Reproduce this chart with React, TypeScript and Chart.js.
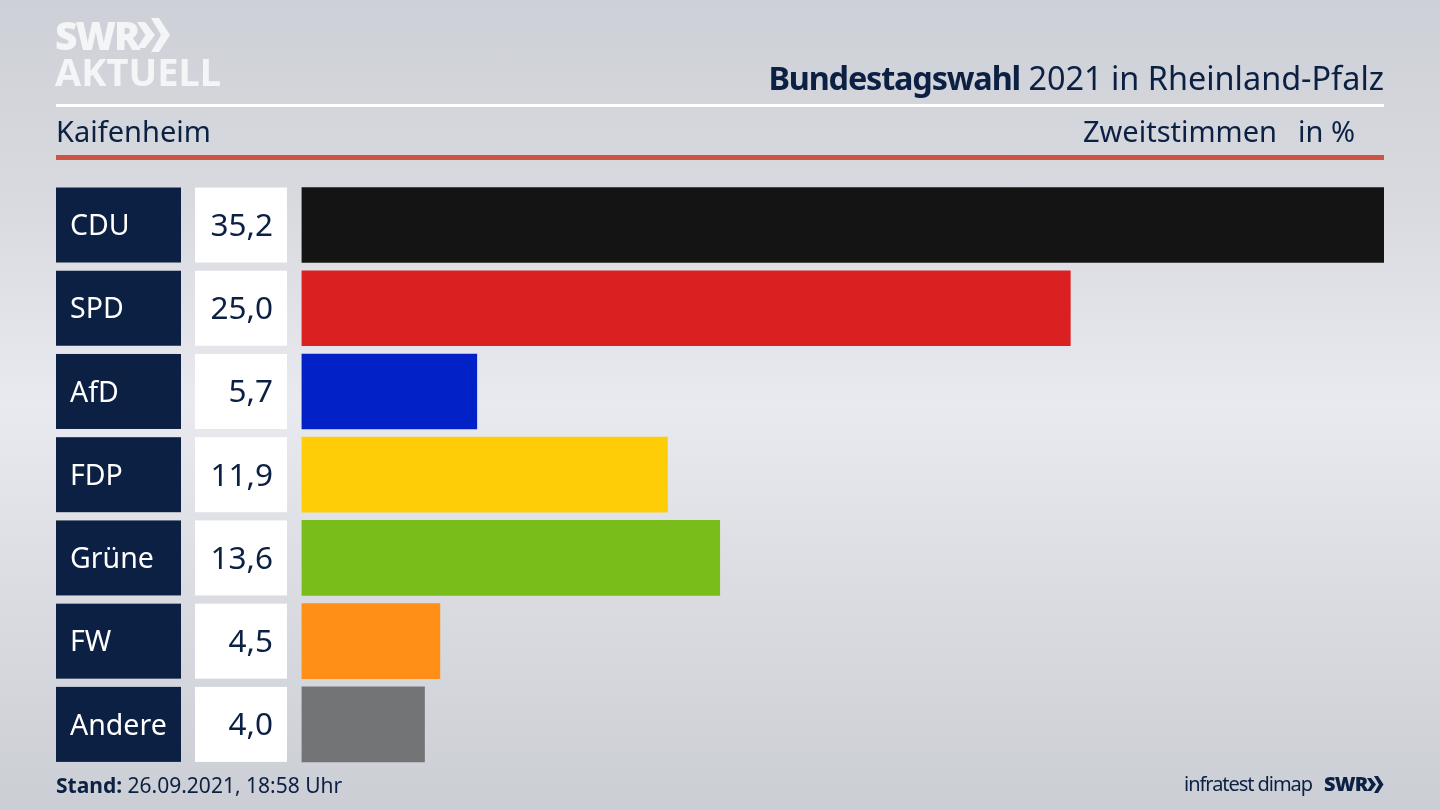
import { useEffect, useRef } from 'react'
import { Chart, registerables } from 'chart.js'

Chart.register(...registerables)

const parties = ['CDU', 'SPD', 'AfD', 'FDP', 'Grüne', 'FW', 'Andere']
const shares = [35.2, 25.0, 5.7, 11.9, 13.6, 4.5, 4.0]
const partyColors = ['#141414', '#da2020', '#0221c6', '#fecd08', '#79bd1a', '#ff8f16', '#737476']

const NAVY = '#0b2042'
const FONT = '"Noto Sans", sans-serif'
const CHEVRONS = 'M1 4 L9 4 L19 17 L9 30 L1 30 L9.5 17 Z M15 0 L23 0 L34 17 L23 34 L15 34 L25 17 Z'

// draws the name box and the value box left of each bar
const rowBoxes = {
  id: 'rowBoxes',
  afterDatasetsDraw(chart: Chart) {
    const { ctx } = chart
    const y = chart.scales.y
    ctx.save()
    parties.forEach((name, i) => {
      const mid = y.getPixelForValue(i)
      ctx.fillStyle = NAVY
      ctx.fillRect(56, mid - 37.5, 125, 75)
      ctx.fillStyle = '#ffffff'
      ctx.fillRect(195, mid - 37.5, 92, 75)
      ctx.font = `28.5px ${FONT}`
      ctx.textBaseline = 'middle'
      ctx.textAlign = 'left'
      ctx.fillText(name, 70, mid + 2)
      ctx.fillStyle = NAVY
      ctx.font = `31.5px ${FONT}`
      ctx.textAlign = 'right'
      ctx.fillText(shares[i].toFixed(1).replace('.', ','), 273, mid + 2)
    })
    ctx.restore()
  },
}

function Txt({ children, style }: { children: React.ReactNode; style: React.CSSProperties }) {
  return <div style={{ position: 'absolute', whiteSpace: 'nowrap', lineHeight: 1, ...style }}>{children}</div>
}

export default function App() {
  const canvasRef = useRef<HTMLCanvasElement | null>(null)

  useEffect(() => {
    document.body.style.margin = '0'
    const chart = new Chart(canvasRef.current!, {
      type: 'bar',
      data: {
        labels: parties,
        datasets: [{ data: shares, backgroundColor: partyColors, barThickness: 75 }],
      },
      options: {
        indexAxis: 'y',
        animation: false,
        responsive: false,
        layout: { padding: { left: 301.5, right: 56, top: 183.4, bottom: 44 } },
        plugins: { legend: { display: false }, tooltip: { enabled: false } },
        scales: {
          x: { display: false, min: 0, max: 35.2 },
          y: { display: false },
        },
      },
      plugins: [rowBoxes],
    })
    return () => chart.destroy()
  }, [])

  return (
    <div
      style={{
        position: 'relative',
        width: 1440,
        height: 810,
        overflow: 'hidden',
        fontFamily: FONT,
        color: NAVY,
        background: 'linear-gradient(180deg, #cdd0d6 0%, #d8dae0 25%, #e9eaef 50%, #d9dbe1 75%, #cbced4 100%)',
      }}
    >
      <canvas ref={canvasRef} width={1440} height={810} style={{ position: 'absolute', left: 0, top: 0 }} />

      <Txt style={{ left: 55, top: 15, fontSize: 39, fontWeight: 900, color: '#f4f5f7', letterSpacing: -2 }}>SWR</Txt>
      <svg style={{ position: 'absolute', left: 136, top: 18 }} width={34} height={34} viewBox="0 0 34 34">
        <path d={CHEVRONS} fill="#f4f5f7" />
      </svg>
      <Txt style={{ left: 55, top: 52, fontSize: 38, fontWeight: 700, color: '#f4f5f7' }}>AKTUELL</Txt>

      <Txt style={{ right: 56, top: 61, fontSize: 32.4 }}>
        <b style={{ letterSpacing: -1.15 }}>Bundestagswahl</b> 2021 in Rheinland-Pfalz
      </Txt>
      <div style={{ position: 'absolute', left: 56, top: 104, width: 1328, height: 3, background: '#ffffff' }} />

      <Txt style={{ left: 56, top: 116, fontSize: 29 }}>Kaifenheim</Txt>
      <Txt style={{ right: 163, top: 116, fontSize: 29 }}>Zweitstimmen</Txt>
      <Txt style={{ right: 85, top: 116, fontSize: 29 }}>in %</Txt>
      <div style={{ position: 'absolute', left: 56, top: 155, width: 1328, height: 5, background: '#cb5442' }} />

      <Txt style={{ left: 56, top: 775, fontSize: 21 }}>
        <b>Stand:</b> 26.09.2021, 18:58 Uhr
      </Txt>
      <Txt style={{ right: 128, top: 774, fontSize: 20, letterSpacing: -1.05 }}>infratest dimap</Txt>
      <Txt style={{ left: 1324, top: 774, fontSize: 20, fontWeight: 900, letterSpacing: -0.8 }}>SWR</Txt>
      <svg style={{ position: 'absolute', left: 1366, top: 776 }} width={18} height={17} viewBox="0 0 34 34">
        <path d={CHEVRONS} fill={NAVY} />
      </svg>
    </div>
  )
}
